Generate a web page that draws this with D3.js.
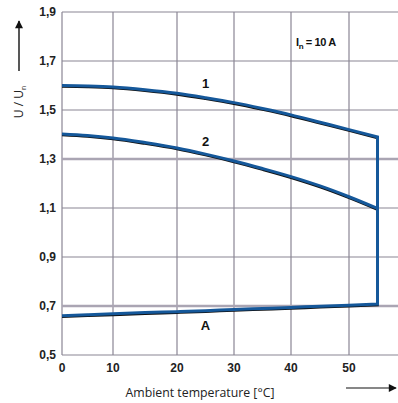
<!DOCTYPE html>
<html>
<head>
<meta charset="utf-8">
<script src="https://cdn.jsdelivr.net/npm/d3@7"></script>
<style>
  body { margin: 0; background: #fff; }
</style>
</head>
<body>
<script>
// data
var temps = [0, 5, 10, 15, 20, 25, 30, 35, 40, 45, 50, 55];
var curve1 = [1.600, 1.598, 1.594, 1.583, 1.568, 1.550, 1.530, 1.506, 1.480, 1.450, 1.420, 1.390];
var curve2 = [1.402, 1.396, 1.386, 1.367, 1.345, 1.320, 1.292, 1.261, 1.228, 1.190, 1.146, 1.098];
var curveA = [0.660, 0.664, 0.668, 0.673, 0.677, 0.681, 0.686, 0.690, 0.694, 0.699, 0.703, 0.708];
var xTicks = [0, 10, 20, 30, 40, 50];
var yTicks = [0.5, 0.7, 0.9, 1.1, 1.3, 1.5, 1.7, 1.9];
var strongLines = [0.7, 1.3];
var curveLabels = [
    {text: "1", t: 25, v: 1.588},
    {text: "2", t: 25, v: 1.355},
    {text: "A", t: 25, v: 0.604}
];

function main(){
    var width = 398, height = 403;

    var svg = d3.select("body").append("svg")
        .attr("width", width)
        .attr("height", height);

    // the printed grid is not evenly spaced, so map each decade
    var xScale = d3.scaleLinear()
        .domain([0, 10, 20, 30, 40, 50, 60])
        .range([62, 113, 177, 234, 291, 349, 406]);
    var yScale = d3.scaleLinear().domain([0.5, 1.9]).range([355, 12]);

    var grid = svg.append("g");

    // vertical grid lines
    grid.selectAll(".vl")
        .data(xTicks)
        .enter().append("line")
        .attr("x1", d => xScale(d)).attr("x2", d => xScale(d))
        .attr("y1", yScale(1.9)).attr("y2", yScale(0.5))
        .attr("stroke", "#8a8594")
        .attr("stroke-width", 1.2);

    // horizontal grid lines
    grid.selectAll(".hl")
        .data(yTicks)
        .enter().append("line")
        .attr("x1", xScale(0)).attr("x2", width)
        .attr("y1", d => yScale(d)).attr("y2", d => yScale(d))
        .attr("stroke", d => strongLines.indexOf(d) >= 0 ? "#aaa5b3" : "#8a8594")
        .attr("stroke-width", d => strongLines.indexOf(d) >= 0 ? 2.6 : 1.2);

    // tick labels
    svg.append("g").selectAll("text")
        .data(yTicks)
        .enter().append("text")
        .attr("x", 56)
        .attr("y", d => yScale(d) + 4)
        .attr("text-anchor", "end")
        .attr("font-family", "Liberation Sans, Arial, sans-serif")
        .attr("font-weight", "bold")
        .attr("font-size", "12px")
        .attr("fill", "#222")
        .text(d => d3.format(".1f")(d).replace(".", ","));

    svg.append("g").selectAll("text")
        .data(xTicks)
        .enter().append("text")
        .attr("x", d => xScale(d))
        .attr("y", 372)
        .attr("text-anchor", "middle")
        .attr("font-family", "Liberation Sans, Arial, sans-serif")
        .attr("font-weight", "bold")
        .attr("font-size", "12px")
        .attr("fill", "#222")
        .text(d => d);

    // curves: black shadow underneath, blue on top
    var line = d3.line()
        .x(d => xScale(d[0]))
        .y(d => yScale(d[1]))
        .curve(d3.curveMonotoneX);

    var pts1 = temps.map((t, i) => [t, curve1[i]]);
    var pts2 = temps.map((t, i) => [t, curve2[i]]);
    var ptsA = temps.map((t, i) => [t, curveA[i]]);
    var last = temps.length - 1;

    // outline: curve 1, down the 55 °C edge, back along A
    var outline = line(pts1) + "L" + xScale(temps[last]) + "," + yScale(curveA[last])
        + line(ptsA.slice().reverse()).replace(/^M/, "L");

    var paths = [outline, line(pts2)];

    svg.append("g").attr("transform", "translate(0,1)")
        .selectAll("path").data(paths).enter().append("path")
        .attr("d", d => d)
        .attr("fill", "none")
        .attr("stroke", "#111")
        .attr("stroke-width", 2.6);

    svg.append("g")
        .selectAll("path").data(paths).enter().append("path")
        .attr("d", d => d)
        .attr("fill", "none")
        .attr("stroke", "#15589a")
        .attr("stroke-width", 3)
        .attr("stroke-linejoin", "miter");

    // curve labels
    svg.append("g").selectAll("text")
        .data(curveLabels)
        .enter().append("text")
        .attr("x", d => xScale(d.t))
        .attr("y", d => yScale(d.v))
        .attr("text-anchor", "middle")
        .attr("font-family", "Liberation Sans, Arial, sans-serif")
        .attr("font-weight", "bold")
        .attr("font-size", "13px")
        .attr("fill", "#111")
        .text(d => d.text);

    // rated current
    var inText = svg.append("text")
        .attr("x", 296)
        .attr("y", 46)
        .attr("font-family", "Liberation Sans, Arial, sans-serif")
        .attr("font-weight", "bold")
        .attr("font-size", "11px")
        .attr("letter-spacing", "-0.4px")
        .attr("fill", "#111");
    inText.append("tspan").text("I");
    inText.append("tspan").attr("font-size", "8px").attr("dy", 3).text("n");
    inText.append("tspan").attr("dy", -3).text(" = 10 A");

    // arrow markers
    svg.append("defs").append("marker")
        .attr("id", "arr")
        .attr("viewBox", "0 0 10 10")
        .attr("refX", 9).attr("refY", 5)
        .attr("markerWidth", 10).attr("markerHeight", 8)
        .attr("markerUnits", "userSpaceOnUse")
        .attr("orient", "auto")
        .append("path")
        .attr("d", "M0,0L10,5L0,10Z")
        .attr("fill", "#111");

    // y axis title + arrow
    svg.append("text")
        .attr("transform", "translate(23,102) rotate(-90)")
        .attr("text-anchor", "middle")
        .attr("font-family", "Open Sans, sans-serif")
        .attr("font-size", "12px")
        .attr("fill", "#222")
        .call(t => {
            t.append("tspan").text("U / U");
            t.append("tspan").attr("font-size", "7px").attr("dy", 3).text("n");
        });

    svg.append("line")
        .attr("x1", 19).attr("x2", 19)
        .attr("y1", 71).attr("y2", 21)
        .attr("stroke", "#111").attr("stroke-width", 1.4)
        .attr("marker-end", "url(#arr)");

    // x axis title + arrow
    svg.append("text")
        .attr("x", 200)
        .attr("y", 397)
        .attr("text-anchor", "middle")
        .attr("font-family", "Open Sans, sans-serif")
        .attr("font-size", "12.3px")
        .attr("fill", "#222")
        .text("Ambient temperature [°C]");

    svg.append("line")
        .attr("x1", 346).attr("x2", 396)
        .attr("y1", 388).attr("y2", 388)
        .attr("stroke", "#111").attr("stroke-width", 1.2)
        .attr("marker-end", "url(#arr)");
}
main();
</script>
</body>
</html>
